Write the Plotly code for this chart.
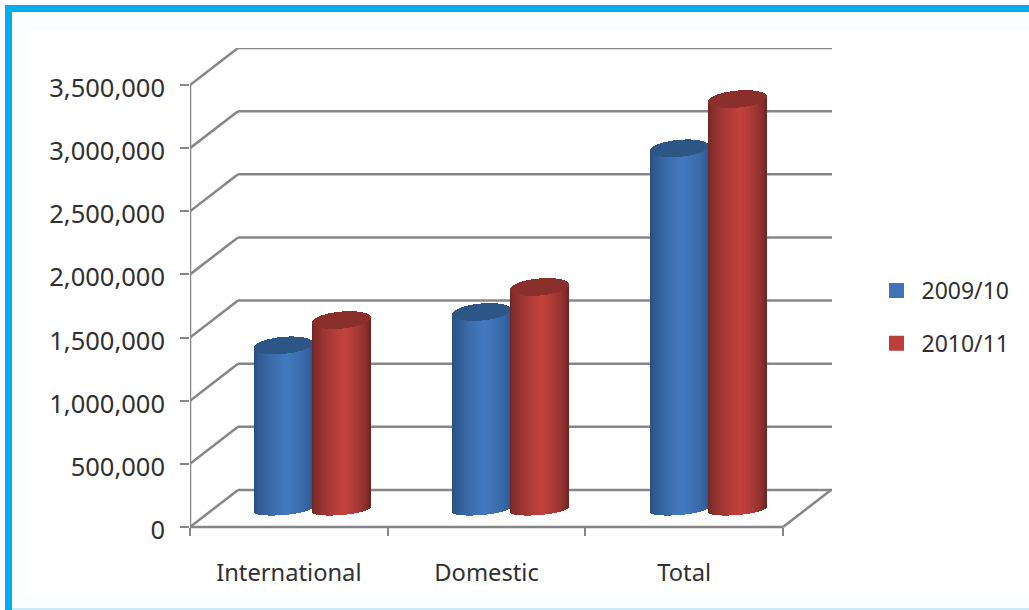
import numpy as np
import plotly.graph_objects as go

categories = ["International", "Domestic", "Total"]
series_names = ["2009/10", "2010/11"]
values_2009 = [1300000, 1564000, 2860000]
values_2010 = [1500000, 1762000, 3250000]
y_ticks = [0, 500000, 1000000, 1500000, 2000000, 2500000, 3000000, 3500000]

W, H = 1029, 610
L, R, T, B = 190, 832, 48, 527      # chart box in page pixels
EXTRA = 10                          # spare pixels under the floor, so the shifted labels keep their zero
PX_X = 197.67                       # pixels per category
PX_Y = 442 / 3500000                # pixels per unit
XMAX = (R - L) / PX_X
YMIN = -EXTRA / PX_Y
YMAX = (B - T) / PX_Y
DEPTH_X = 48 / PX_X
DEPTH_Y = 37 / PX_Y
LABEL_DROP = 3 / PX_Y
GREY = "#868686"
TEXT = "#303030"
FONT = "Noto Sans"

BLUE = dict(edgeL=(38, 76, 124), mid=(68, 121, 191), edgeR=(42, 85, 140), cap="#2c5685", swatch="#4273b8")
RED = dict(edgeL=(106, 38, 36), mid=(196, 66, 62), edgeR=(100, 34, 32), cap="#8a2f2c", swatch="#bb3e3a")


def shade(u, s):
    # u in -1..1 across the cylinder
    out = []
    for v in u:
        if v < 0.1:
            t = ((v + 1) / 1.1) ** 0.6
            a, b = s["edgeL"], s["mid"]
        else:
            t = ((1 - v) / 0.9) ** 0.5
            a, b = s["edgeR"], s["mid"]
        c = [int(a[i] + (b[i] - a[i]) * t) for i in range(3)]
        out.append(f"rgb({c[0]},{c[1]},{c[2]})")
    return out


def cylinder(cat, side, value, s, fig):
    half = 29 / PX_X
    cx = cat + 0.5 + DEPTH_X / 2 + side * half
    off = 17.5 / PX_Y
    n = 58
    xs = cx + (np.arange(n) + 0.5 - n / 2) / PX_X
    u = (xs - cx) / half
    root = np.sqrt(np.clip(1 - u ** 2, 0, 1))
    low = off + (2.5 * u - 5.5 * root) / PX_Y
    top_low = off + value + (2.5 * u - 8.5 * root) / PX_Y
    top_high = off + value + (2.5 * u + 8.5 * root) / PX_Y
    fig.add_bar(x=xs, y=top_low - low, base=low, width=1 / PX_X,
                marker=dict(color=shade(u, s), line=dict(width=0)),
                showlegend=False, hoverinfo="skip")
    fig.add_bar(x=xs, y=top_high - top_low, base=top_low, width=1 / PX_X,
                marker=dict(color=s["cap"], line=dict(width=0)),
                showlegend=False, hoverinfo="skip")


fig = go.Figure()

for i in range(3):
    cylinder(i, -1, values_2009[i], BLUE, fig)
    cylinder(i, 1, values_2010[i], RED, fig)

for name, s in zip(series_names, (BLUE, RED)):
    fig.add_scatter(x=[None], y=[None], mode="markers", name=name, legendgroup=name,
                    marker=dict(symbol="square", size=15, color=s["swatch"]))

# carries the tick labels, which sit slightly below their tick marks
fig.add_scatter(x=[None], y=[None], yaxis="y2", showlegend=False, hoverinfo="skip")

PB = B + EXTRA


def px(x):
    return (x - L) / (R - L)


def py(y):
    return (PB - y) / (PB - T)


def rect(x0, y0, x1, y1, color):
    return dict(type="rect", xref="paper", yref="paper", x0=px(x0), x1=px(x1),
                y0=py(y1), y1=py(y0), fillcolor=color, line_width=0, layer="below")


def seg(x0, y0, x1, y1):
    return dict(type="line", xref="x", yref="y", x0=x0, y0=y0, x1=x1, y1=y1,
                line=dict(color=GREY, width=2.5), layer="below")


shapes = [
    rect(12, 12, W, H, "#fcfdfe"),
    rect(28, 30, W, 596, "#ffffff"),
    rect(5, 5, W, 12, "#00aeef"),
    rect(5, 5, 12, H, "#00aeef"),
    rect(12, 608, W, H, "#cfe9f5"),
]
for t in y_ticks:
    shapes.append(seg(0, t, DEPTH_X, t + DEPTH_Y))
    shapes.append(seg(DEPTH_X, t + DEPTH_Y, XMAX, t + DEPTH_Y))
shapes.append(seg(0, 0, 0, y_ticks[-1]))
shapes.append(seg(0, 0, 3, 0))
shapes.append(seg(3, 0, 3 + DEPTH_X, DEPTH_Y))

fig.update_layout(
    width=W, height=H, autosize=False,
    margin=dict(l=L, r=W - R, t=T, b=H - PB, pad=0),
    paper_bgcolor="#ffffff", plot_bgcolor="rgba(0,0,0,0)",
    barmode="overlay", bargap=0,
    shapes=shapes,
    font=dict(family=FONT, color=TEXT, size=23),
    xaxis=dict(range=[0, XMAX], tickmode="array", tickvals=[0.5, 1.5, 2.5], ticktext=categories,
               anchor="free", position=py(B),
               ticks="", showgrid=False, zeroline=False, showline=False,
               ticklabelstandoff=29, tickfont=dict(size=23.7),
               minor=dict(tickmode="array", tickvals=[0, 1, 2, 3], ticks="outside", ticklen=8,
                          tickwidth=2, tickcolor=GREY, showgrid=False)),
    yaxis=dict(range=[YMIN, YMAX], tickmode="array", tickvals=y_ticks, showticklabels=False,
               ticks="outside", ticklen=9, tickwidth=2, tickcolor=GREY,
               showgrid=False, zeroline=False, showline=False),
    yaxis2=dict(overlaying="y", side="left", range=[YMIN + LABEL_DROP, YMAX + LABEL_DROP],
                tickmode="array", tickvals=y_ticks, tickformat=",d", ticks="", ticklen=0,
                showgrid=False, zeroline=False, showline=False,
                ticklabelstandoff=24, tickfont=dict(size=25.5)),
    legend=dict(xref="container", yref="container", x=871.5 / W, y=1 - 269 / H, xanchor="left", yanchor="top",
                bgcolor="rgba(0,0,0,0)", tracegroupgap=20, traceorder="grouped",
                font=dict(size=23), itemsizing="trace", itemwidth=40),
)

fig.write_html("out.html", config={"displayModeBar": False},
               post_script="document.body.style.margin='0';document.body.style.overflow='hidden';")
